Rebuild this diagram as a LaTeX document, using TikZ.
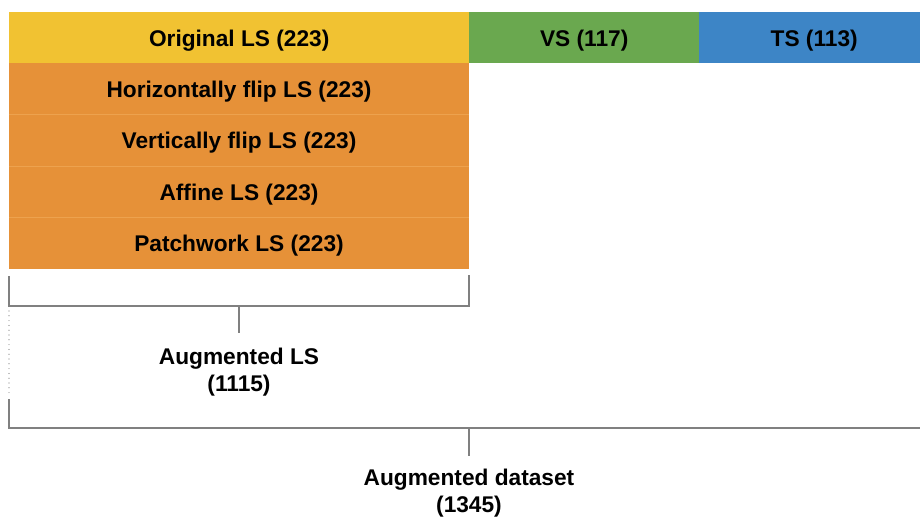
\documentclass[tikz,border=0pt]{standalone}
\usepackage{fontspec}
\setmainfont{Liberation Sans}
\definecolor{lsyellow}{HTML}{F1C232}
\definecolor{vsgreen}{HTML}{6AA84F}
\definecolor{tsblue}{HTML}{3D85C6}
\definecolor{augorange}{HTML}{E69138}
\definecolor{seporange}{HTML}{EDA24E}
\definecolor{brackgray}{HTML}{808080}
\begin{document}
\begin{tikzpicture}[x=1pt,y=-1pt,
  lbl/.style={font=\fontsize{22.7}{26}\selectfont\bfseries, text=black, yshift=-2.5pt},
  cell/.style={draw=none, inner sep=0pt, minimum height=51pt, anchor=north west},
  brack/.style={draw=brackgray, line width=1.4pt},
  caption/.style={font=\fontsize{22.7}{27}\selectfont\bfseries, align=center, text=black}]
\clip (0,0) rectangle (920,517);
\useasboundingbox (0,0) rectangle (920,517);
\fill[white] (0,0) rectangle (920,517);

% top row: learning, validation and test sets
\node[cell, fill=lsyellow, minimum width=460pt] (orig) at (9,12) {};
\node[cell, fill=vsgreen, minimum width=230pt] (vs) at (469,12) {};
\node[cell, fill=tsblue, minimum width=230pt] (ts) at (699,12) {};
\node[lbl] at (orig.center) {Original LS (223)};
\node[lbl] at (vs.center) {VS (117)};
\node[lbl] at (ts.center) {TS (113)};

% augmented copies of the learning set
\fill[augorange] (9,63) rectangle (469,269);
\coordinate (r1) at (239,88.75);
\coordinate (r2) at (239,140.25);
\coordinate (r3) at (239,191.75);
\coordinate (r4) at (239,243.25);
\foreach \yy in {114.5,166,217.5}
  \draw[seporange, line width=0.8pt] (9,\yy) -- (469,\yy);
\node[lbl] (h) at (r1) {Horizontally flip LS (223)};
\node[lbl] (v) at (r2) {Vertically flip LS (223)};
\node[lbl] (a) at (r3) {Affine LS (223)};
\node[lbl] (p) at (r4) {Patchwork LS (223)};

% bracket for the augmented learning set
\coordinate (b1l) at (9,276);
\coordinate (b1r) at (469,275);
\coordinate (b1bl) at (9,306);
\coordinate (b1br) at (469,306);
\coordinate (b1m) at (239,306);
\coordinate (b1t) at (239,333);
\draw[brack] (b1l) -- (b1bl) -- (b1br) -- (b1r);
\draw[brack] (b1m) -- (b1t);
\node[caption] (augls) at (239,372) {Augmented LS\\(1115)};

% bracket for the whole augmented dataset
\coordinate (d1) at (9,311);
\coordinate (d2) at (9,396);
\coordinate (b2l) at (9,399);
\coordinate (b2bl) at (9,428);
\coordinate (b2br) at (925,428);
\coordinate (b2m) at (469,428);
\coordinate (b2t) at (469,456);
\draw[brackgray, line width=1.2pt, line cap=round, dash pattern=on 0pt off 4.8pt] (d1) -- (d2);
\draw[brack] (b2l) -- (b2bl) -- (b2br);
\draw[brack] (b2m) -- (b2t);
\node[caption] (augds) at (469,493) {Augmented dataset\\(1345)};
\end{tikzpicture}
\end{document}
